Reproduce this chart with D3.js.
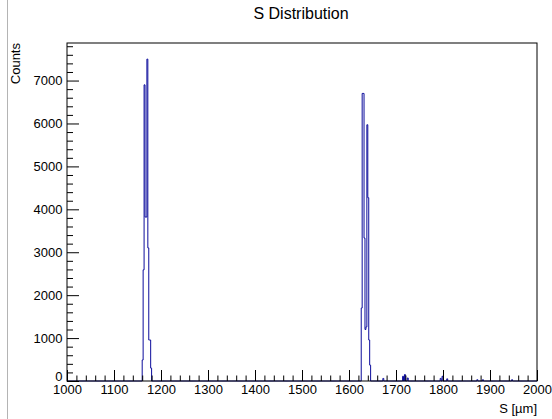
<!DOCTYPE html>
<html>
<head>
<meta charset="utf-8">
<script src="https://cdn.jsdelivr.net/npm/d3@7"></script>
<style>
  html, body { margin: 0; padding: 0; background: #fff; }
  svg { display: block; font-family: "Liberation Sans", Arial, Helvetica, sans-serif; }
</style>
</head>
<body>
<svg id="chart" width="552" height="419"></svg>
<script>
// Histogram settings: S in micrometres, 2 µm bins
const xRange = [1000, 2000];
const binWidth = 2;
// lower edges of the filled bins and their counts
const binLow = [
  1160, 1162, 1164, 1166, 1168, 1170, 1172, 1174, 1176, 1178,
  1626, 1628, 1630, 1632, 1634, 1636, 1638, 1640, 1642, 1644,
  1672, 1714, 1718, 1724, 1794, 1798, 1808, 1872, 1884, 1946
];
const counts = [
  490, 2590, 6900, 3820, 3820, 7500, 3100, 955, 955, 300,
  1700, 6700, 6700, 3330, 1200, 1260, 5970, 4270, 955, 370,
  60, 110, 150, 70, 60, 110, 50, 30, 30, 30
];
const xTicks = [1000, 1100, 1200, 1300, 1400, 1500, 1600, 1700, 1800, 1900, 2000];
const yTicks = [0, 1000, 2000, 3000, 4000, 5000, 6000, 7000];
const yMax = 7875;

const svg = d3.select("#chart");
const frame = { left: 67, right: 537, top: 43, bottom: 381 };

const x = d3.scaleLinear().domain(xRange).range([frame.left, frame.right]);
const y = d3.scaleLinear().domain([0, yMax]).range([frame.bottom, frame.top]);

// canvas edge line
svg.append("line")
  .attr("x1", 7.5).attr("x2", 7.5).attr("y1", 0).attr("y2", 419)
  .attr("stroke", "#b4b4b4").attr("stroke-width", 1);

// full set of bins across the axis range
const nBins = (xRange[1] - xRange[0]) / binWidth;
const bins = d3.range(nBins).map(i => ({ lo: xRange[0] + i * binWidth, n: 0 }));
binLow.forEach((lo, i) => {
  const k = Math.round((lo - xRange[0]) / binWidth);
  bins[k].n = counts[i];
});

// step outline of the histogram
let d = `M${x(xRange[0])},${y(0)}`;
bins.forEach(b => {
  d += `L${x(b.lo)},${y(b.n)}L${x(b.lo + binWidth)},${y(b.n)}`;
});
d += `L${x(xRange[1])},${y(0)}`;
svg.append("path")
  .attr("d", d)
  .attr("fill", "none")
  .attr("stroke", "#0c0c9c")
  .attr("stroke-width", 1);

// minor ticks
const xMinor = d3.range(xRange[0], xRange[1] + 1, 20).filter(v => v % 100 !== 0);
const yMinor = d3.range(0, yMax, 200).filter(v => v % 1000 !== 0);

svg.append("g")
  .attr("transform", `translate(0,${frame.bottom})`)
  .call(d3.axisBottom(x).tickValues(xMinor).tickSizeInner(-5.5).tickSizeOuter(0).tickFormat(""))
  .call(g => g.select(".domain").remove());
svg.append("g")
  .attr("transform", `translate(${frame.left},0)`)
  .call(d3.axisLeft(y).tickValues(yMinor).tickSizeInner(-6).tickSizeOuter(0).tickFormat(""))
  .call(g => g.select(".domain").remove());

// major ticks and labels
const xAxis = svg.append("g")
  .attr("transform", `translate(0,${frame.bottom})`)
  .call(d3.axisBottom(x).tickValues(xTicks).tickSizeInner(-11).tickSizeOuter(0).tickPadding(4).tickFormat(d3.format("d")));
const yAxis = svg.append("g")
  .attr("transform", `translate(${frame.left},0)`)
  .call(d3.axisLeft(y).tickValues(yTicks).tickSizeInner(-12).tickSizeOuter(0).tickPadding(4.5).tickFormat(d3.format("d")));

[xAxis, yAxis].forEach(g => {
  g.selectAll("text").attr("font-size", 13).attr("fill", "#000")
    .style("font-family", '"Liberation Sans", Arial, sans-serif');
  g.select(".domain").remove();
});
// the zero label sits just above the first x label
yAxis.selectAll(".tick text").filter(v => v === 0).attr("dy", "-0.05em");
svg.selectAll(".tick line").attr("stroke", "#000");

// frame
svg.append("rect")
  .attr("x", frame.left).attr("y", frame.top)
  .attr("width", frame.right - frame.left).attr("height", frame.bottom - frame.top)
  .attr("fill", "none").attr("stroke", "#000").attr("stroke-width", 1);

// title and axis titles
svg.append("text")
  .attr("x", 301).attr("y", 19)
  .attr("text-anchor", "middle").attr("font-size", 16)
  .text("S Distribution");

svg.append("text")
  .attr("x", frame.right).attr("y", 413)
  .attr("text-anchor", "end").attr("font-size", 13)
  .text("S [µm]");

svg.append("text")
  .attr("transform", `translate(20,${frame.top}) rotate(-90)`)
  .attr("text-anchor", "end").attr("font-size", 13)
  .text("Counts");
</script>
</body>
</html>
